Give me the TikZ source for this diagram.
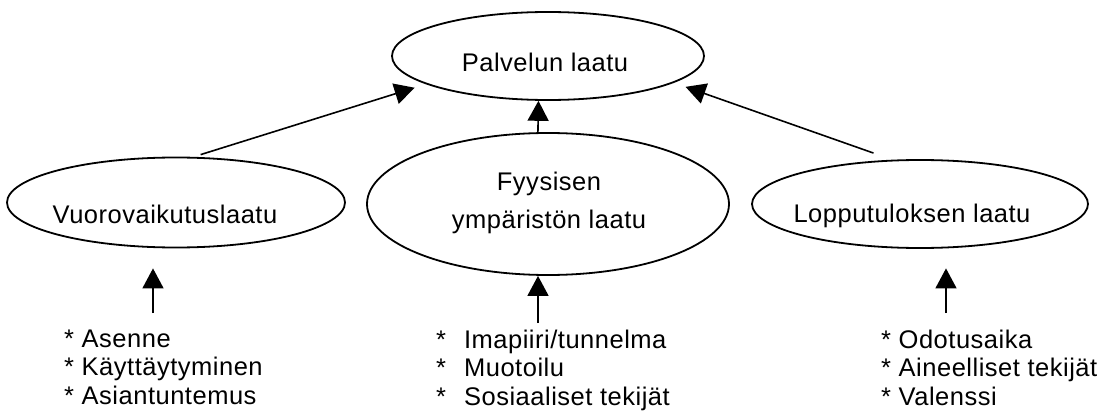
\documentclass[tikz,border=0pt]{standalone}
\usepackage{fontspec}
\setmainfont{Liberation Sans}[LetterSpace=2]
\usetikzlibrary{arrows.meta,shapes.geometric}

\begin{document}
\begin{tikzpicture}[x=1pt,y=-1pt,
  oval/.style={draw, ellipse, line width=1.8pt, inner sep=0pt},
  txt/.style={inner sep=0pt, font=\fontsize{25.5}{28.5}\selectfont},
  link/.style={line width=1.6pt, -{Triangle[length=20pt,width=21pt]}}]
\useasboundingbox (0,0) rectangle (1098,412);

% the four quality dimensions
\node[oval, minimum width=312pt, minimum height=88pt]  (pl) at (548,56)    {};
\node[oval, minimum width=338pt, minimum height=90pt]  (vl) at (176,202.5) {};
\node[oval, minimum width=362pt, minimum height=142pt] (fy) at (548,204)   {};
\node[oval, minimum width=336pt, minimum height=88pt]  (lp) at (920,204)   {};

% labels inside the ovals
\node[txt, anchor=base] (pl-t) at (545,72)  {Palvelun laatu};
\node[txt, anchor=base] (vl-t) at (165,223) {Vuorovaikutuslaatu};
\node[txt, anchor=north, align=center, font=\fontsize{25.5}{38}\selectfont]
  (fy-t) at (549,171.7) {Fyysisen\\ympäristön laatu};
\node[txt, anchor=base] (lp-t) at (912,222) {Lopputuloksen laatu};

% factor lists
\node[txt, anchor=north west, align=left] (vl-list) at (64,329.7)
  {* Asenne\\* Käyttäytyminen\\* Asiantuntemus};
\node[txt, anchor=north west, align=left] (fy-list) at (436,329.7)
  {*\hspace{18pt}Imapiiri/tunnelma\\*\hspace{18pt}Muotoilu\\*\hspace{18pt}Sosiaaliset tekijät};
\node[txt, anchor=north west, align=left] (lp-list) at (881,329.7)
  {* Odotusaika\\* Aineelliset tekijät\\* Valenssi};

% arrows into the overall service quality
\draw[link, shorten <=7.5pt, shorten >=11.8pt] (vl.69.4) -- (pl.193.5);
\draw[link, shorten <=20pt, shorten >=12.3pt] (lp.122.9) -- (pl.-12.3);
\draw[link] (fy.98) -- (pl.-102.8);

% arrows from the lists up into each dimension
\coordinate (vl-in) at (153,313);
\coordinate (fy-in) at (538,323);
\coordinate (lp-in) at (946,313);
\draw[link, shorten >=20pt] (vl-in) -- (vl-in |- vl.south);
\draw[link] (fy-in) -- (fy-in |- fy.south);
\draw[link, shorten >=19.5pt] (lp-in) -- (lp-in |- lp.south);
\end{tikzpicture}
\end{document}
